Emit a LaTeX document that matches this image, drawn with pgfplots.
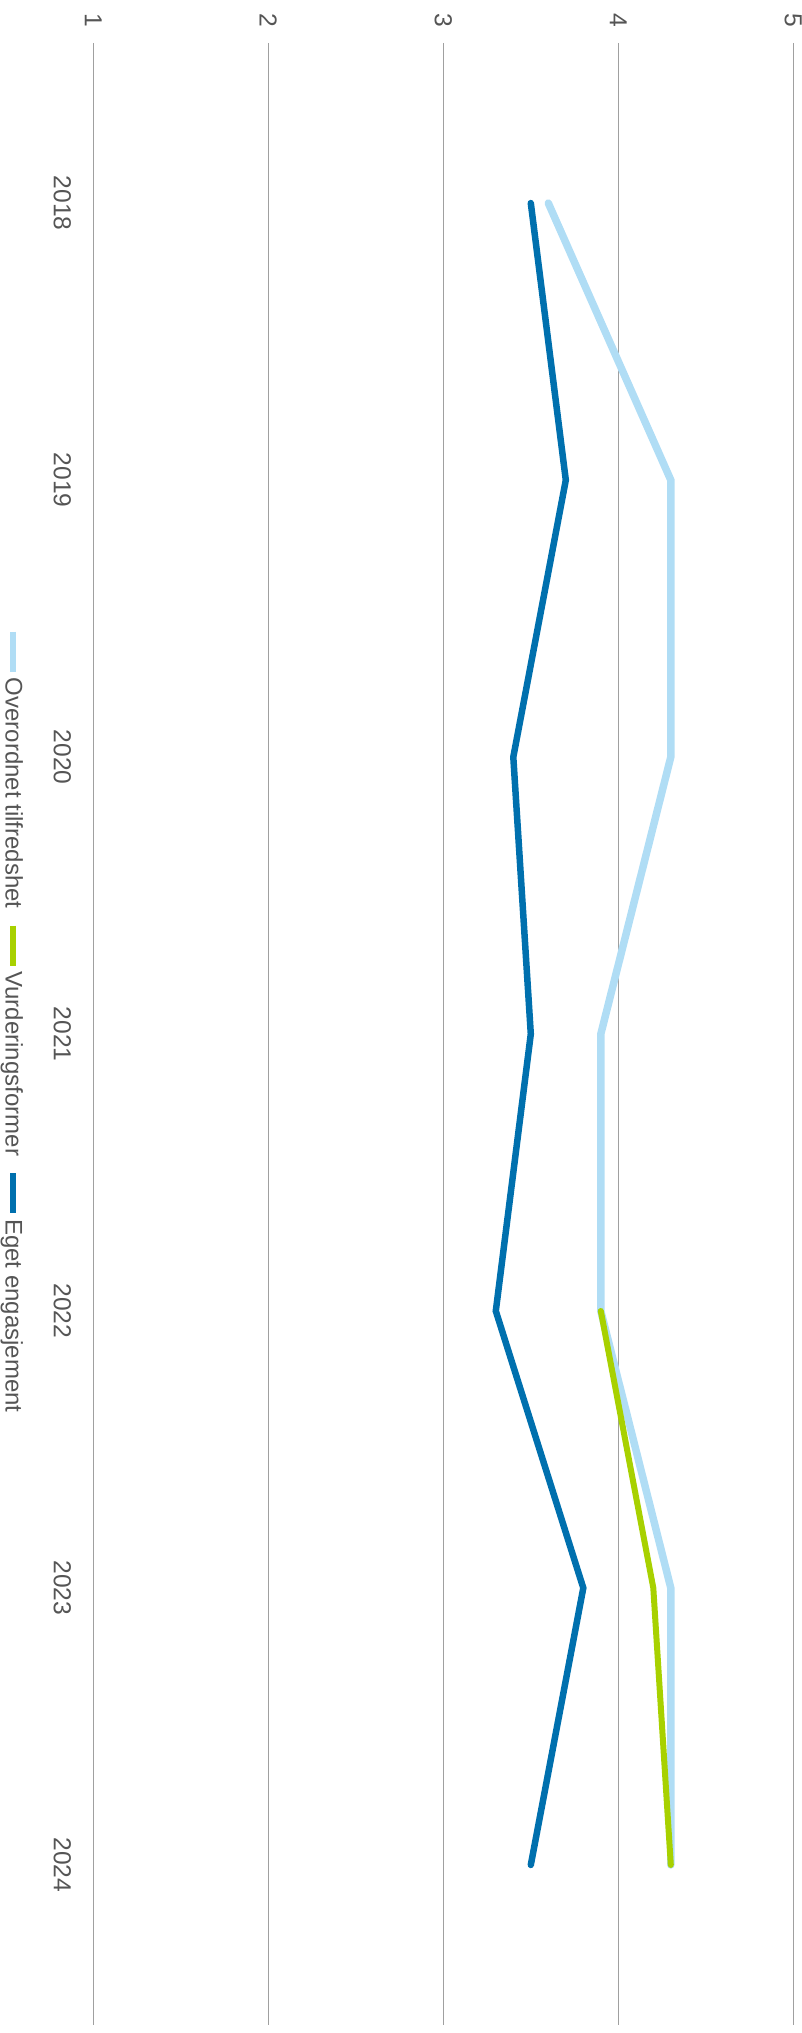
\documentclass[border=0pt]{standalone}
\usepackage{fontspec}
\setmainfont{Liberation Sans}
\usepackage{graphicx}
\usepackage{pgfplots}
\pgfplotsset{compat=1.18}
\definecolor{lightblue}{HTML}{B0DDF5}
\definecolor{limegreen}{HTML}{A8D100}
\definecolor{darkblue}{HTML}{0070AE}
\definecolor{txt}{HTML}{555555}
\definecolor{gridc}{HTML}{A0A0A0}
\begin{document}
\rotatebox{-90}{%
\begin{tikzpicture}
\useasboundingbox (-21.5pt,-46.65pt) rectangle (995pt,354.35pt);
\begin{axis}[
  scale only axis, width=991pt, height=350pt,
  at={(0,0)}, anchor=south west,
  xmin=-0.578, xmax=6.578, ymin=1, ymax=5,
  xtick={0,1,2,3,4,5,6},
  xticklabels={2018,2019,2020,2021,2022,2023,2024},
  ytick={1,2,3,4,5},
  axis line style={draw=none}, tick style={draw=none},
  ymajorgrids, grid style={gridc, line width=0.55pt},
  tick label style={font=\fontsize{12.3pt}{14pt}\selectfont, text=txt},
  /pgf/number format/assume math mode=true,
  xticklabel style={anchor=center, yshift=-15.5pt},
  yticklabel style={anchor=center, xshift=-11.5pt},
  legend columns=-1,
  legend style={draw=none, fill=none, at={(axis description cs:0.494,0)}, anchor=center, yshift=-40.2pt,
    font=\fontsize{12pt}{14pt}\selectfont, text=txt,
    nodes={inner sep=1.5pt},
    /tikz/every even column/.append style={column sep=5.5pt}},
  legend image code/.code={\draw[#1, line width=3pt, line cap=butt] (0pt,0pt) -- (20pt,0pt);},
]
\addplot[lightblue, line width=3.75pt, line cap=round] coordinates {(0,3.6) (1,4.3) (2,4.3) (3,3.9) (4,3.9) (5,4.3) (6,4.3)};
\addlegendentry{Overordnet tilfredshet}
\addplot[limegreen, line width=3pt, line cap=round] coordinates {(4,3.9) (5,4.2) (6,4.3)};
\addlegendentry{Vurderingsformer}
\addplot[darkblue, line width=3.25pt, line cap=round] coordinates {(0,3.5) (1,3.7) (2,3.4) (3,3.5) (4,3.3) (5,3.8) (6,3.5)};
\addlegendentry{Eget engasjement}
\end{axis}
\end{tikzpicture}}
\end{document}
